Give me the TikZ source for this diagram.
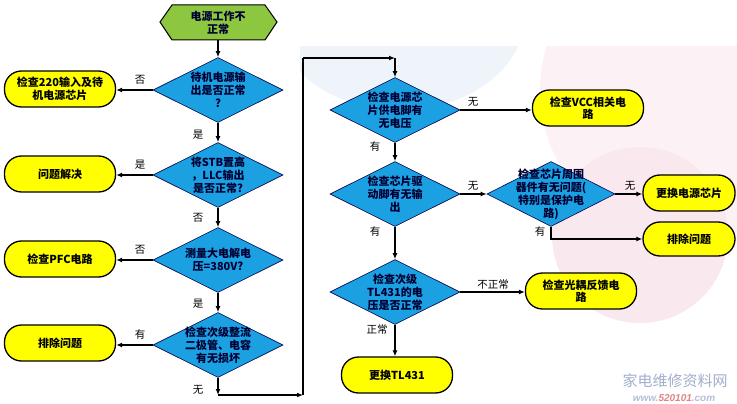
\documentclass[tikz,border=0pt]{standalone}
\usepackage{fontspec}
\setmainfont{Liberation Sans}
\newfontfamily\cjk{Noto Sans CJK SC}
\usetikzlibrary{shapes.geometric,arrows.meta,calc}
\definecolor{diac}{HTML}{1BA1E2}
\definecolor{hexg}{HTML}{8DC63F}
\definecolor{termy}{HTML}{FFFF00}
\definecolor{bgblue}{HTML}{EEF4FA}
\definecolor{bgpink}{HTML}{FCF1F4}
\definecolor{bgpink2}{HTML}{F9E8ED}
\definecolor{wmark}{HTML}{A4AECD}
\definecolor{wred}{HTML}{E08585}
\begin{document}
\begin{tikzpicture}[x=1pt,y=-1pt,
  dshape/.style={diamond, draw=black!70!blue, line width=0.6pt, fill=diac, minimum width=130pt, minimum height=65pt, inner sep=0pt},
  dtxt/.style={align=center, font=\cjk\bfseries\fontsize{11}{13}\selectfont, text=black!80!blue, inner sep=0pt},
  term/.style={draw=black, line width=1.3pt, fill=termy, rounded corners=17pt, minimum width=111pt, minimum height=36pt, align=center, font=\cjk\bfseries\fontsize{11}{12.5}\selectfont, inner sep=1pt},
  lab/.style={font=\cjk\fontsize{10.5}{12}\selectfont, inner sep=0pt},
  arr/.style={-{Latex[length=6pt,width=5pt]}, line width=1.2pt},
  ln/.style={line width=1.2pt}]
\useasboundingbox (0,0) rectangle (737,404);
\fill[white] (0,0) rectangle (737,404);
% background decoration
\begin{scope}
\clip (300,47) rectangle (737,404);
\fill[bgpink] (690,90) circle (150);
\fill[bgpink2] (640,235) circle (88);
\fill[bgblue] (400,15) ellipse (125 and 95);
\end{scope}
% watermark
\node[font=\cjk\fontsize{15}{16}\selectfont, text=wmark, inner sep=0pt] (wm1) at (675,381) {家电维修资料网};
\node[font=\bfseries\itshape\fontsize{10}{11}\selectfont, text=wmark!80, inner sep=0pt] (wm2) at (674,398) {www.\textcolor{wred}{520101}.com};
% start hexagon
\draw[fill=hexg, line width=1pt] (160,22) -- (172,5) -- (265,5) -- (277,22) -- (265,40) -- (172,40) -- cycle;
\node[dtxt, minimum width=117pt, minimum height=35pt] (s) at (218,22.5) {电源工作不\\正常};
% left column
\node[dshape] (d1) at (218,90) {};
\node[dtxt] (d1t) at (d1) {待机电源输\\出是否正常\\?};
\node[term] (b1) at (60,89) {检查220输入及待\\机电源芯片};
\node[dshape] (d2) at (218,175) {};
\node[dtxt] (d2t) at (d2) {将STB置高\\，LLC输出\\是否正常?};
\node[term] (b2) at (60,174) {问题解决};
\node[dshape] (d3) at (218,260) {};
\node[dtxt] (d3t) at (d3) {测量大电解电\\压=380V?};
\node[term] (b3) at (60,259) {检查PFC电路};
\node[dshape] (d4) at (218,345) {};
\node[dtxt] (d4t) at (d4) {检查次级整流\\二极管、电容\\有无损坏};
\node[term] (b4) at (60,343) {排除问题};
% right column
\node[dshape] (d5) at (395,110) {};
\node[dtxt] (d5t) at (d5) {检查电源芯\\片供电脚有\\无电压};
\node[term] (bvcc) at (588,108) {检查VCC相关电\\路};
\node[dshape] (d6) at (395,194) {};
\node[dtxt] (d6t) at (d6) {检查芯片驱\\动脚有无输\\出};
\node[dshape, minimum width=128pt] (d7) at (551,194) {};
\node[dtxt] (d7t) at (d7) {检查芯片周围\\器件有无问题(\\特别是保护电\\路)};
\node[term, minimum width=92pt] (bchip) at (689,193) {更换电源芯片};
\node[term, minimum width=92pt, minimum height=34pt] (bfix) at (689,239) {排除问题};
\node[dshape] (d8) at (395,292) {};
\node[dtxt] (d8t) at (d8) {检查次级\\TL431的电\\压是否正常};
\node[term] (bopt) at (581,291) {检查光耦反馈电\\路};
\node[term] (btl) at (397,375) {更换TL431};
% connectors left
\draw[arr] (s.south) -- (d1.north);
\draw[arr] (d1.west) -- (b1.east |- d1.west);
\draw[arr] (d1.south) -- (d2.north);
\draw[arr] (d2.west) -- (b2.east |- d2.west);
\draw[arr] (d2.south) -- (d3.north);
\draw[arr] (d3.west) -- (b3.east |- d3.west);
\draw[arr] (d3.south) -- (d4.north);
\draw[arr] (d4.west) -- (b4.east |- d4.west);
% loop
\coordinate (c1) at (218,395);
\coordinate (c2) at (303,395);
\coordinate (c3) at (303,58);
\coordinate (c4) at (395,58);
\draw[arr] (d4.south) -- (c1);
\draw[arr] (c1) -- (c2);
\draw[ln] (c2) -- (c3);
\draw[arr] (c3) -- (c4);
\draw[arr] (c4) -- (d5.north);
% connectors right
\draw[arr] (d5.east) -- (bvcc.west |- d5.east);
\draw[arr] (d5.south) -- (d6.north);
\draw[arr] (d6.east) -- (d7.west);
\draw[arr] (d7.east) -- (bchip.west |- d7.east);
\draw[arr] (d7.south) |- (bfix.west);
\draw[arr] (d6.south) -- (d8.north);
\draw[arr] (d8.east) -- (bopt.west |- d8.east);
\draw[arr] (d8.south) -- (btl.north -| d8.south);
% labels
\node[lab] (l1) at (140,80) {否};
\node[lab] (l2) at (198,135) {是};
\node[lab] (l3) at (140,165) {是};
\node[lab] (l4) at (198,218) {否};
\node[lab] (l5) at (140,250) {否};
\node[lab] (l6) at (198,304) {是};
\node[lab] (l7) at (140,335) {有};
\node[lab] (l8) at (198,390) {无};
\node[lab] (l9) at (473,102) {无};
\node[lab] (l10) at (375,147) {有};
\node[lab] (l11) at (473,186) {无};
\node[lab] (l12) at (630,186) {无};
\node[lab] (l13) at (540,232) {有};
\node[lab] (l14) at (375,232) {有};
\node[lab] (l15) at (493,285) {不正常};
\node[lab] (l16) at (377,330) {正常};
\end{tikzpicture}
\end{document}
